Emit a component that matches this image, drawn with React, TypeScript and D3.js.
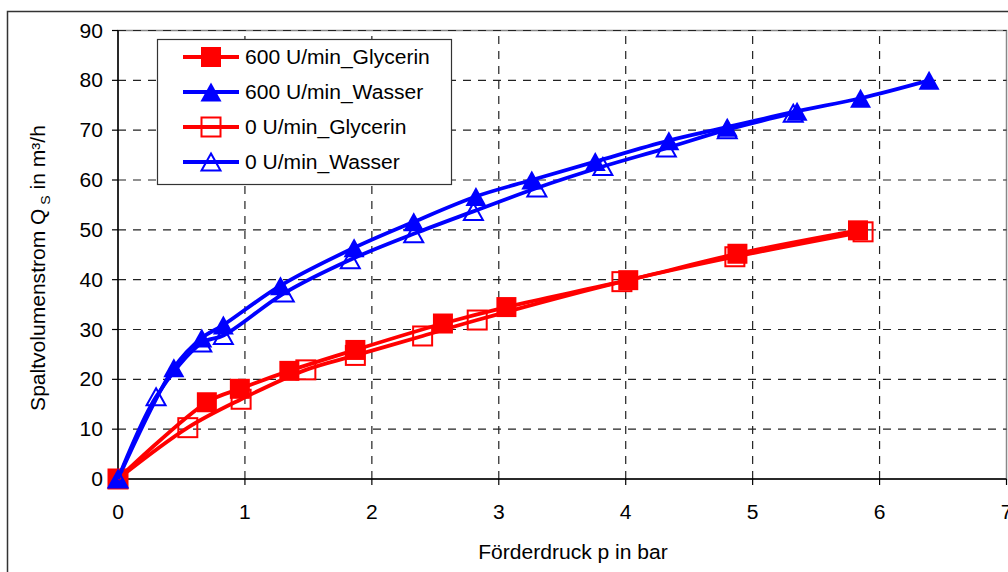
import React from "react";
import * as d3 from "d3";

const glyc600X = [0, 0.70, 0.96, 1.35, 1.87, 2.56, 3.06, 4.02, 4.88, 5.83];
const glyc600Y = [0, 15.4, 18.1, 21.7, 25.9, 31.2, 34.5, 39.9, 45.2, 49.9];

const wasser600X = [0, 0.44, 0.66, 0.83, 1.28, 1.86, 2.33, 2.82, 3.26, 3.76, 4.34, 4.80, 5.35, 5.85, 6.39];
const wasser600Y = [0, 22.3, 28.3, 30.9, 38.8, 46.4, 51.6, 56.7, 60.0, 63.7, 67.9, 70.6, 73.8, 76.4, 80.0];

const glyc0X = [0, 0.55, 0.97, 1.48, 1.87, 2.40, 2.83, 3.97, 4.86, 5.87];
const glyc0Y = [0, 10.3, 16.0, 21.9, 24.8, 28.7, 31.9, 39.6, 44.6, 49.6];

const wasser0X = [0, 0.30, 0.66, 0.83, 1.31, 1.83, 2.33, 2.80, 3.30, 3.82, 4.32, 4.80, 5.32];
const wasser0Y = [0, 16.5, 27.3, 28.8, 37.3, 44.0, 49.2, 53.7, 58.4, 62.7, 66.4, 70.1, 73.4];

const seriesNames = ["600 U/min_Glycerin", "600 U/min_Wasser", "0 U/min_Glycerin", "0 U/min_Wasser"];
const xTicks = [0, 1, 2, 3, 4, 5, 6, 7];
const yTicks = [0, 10, 20, 30, 40, 50, 60, 70, 80, 90];

const RED = "#ff0000";
const BLUE = "#0000ff";
const FONT = "'Liberation Sans', Arial, sans-serif";
const FS = 19.5;
const SX = 1.08;

type Kind = "sqFill" | "triFill" | "sqOpen" | "triOpen";

function Marker({ x, y, kind, color }: { x: number; y: number; kind: Kind; color: string }) {
  if (kind === "sqFill") return <rect x={x - 10} y={y - 10} width={20} height={20} fill={color} />;
  if (kind === "sqOpen")
    return <rect x={x - 9.5} y={y - 9.5} width={19} height={19} fill="none" stroke={color} strokeWidth={2} />;
  const h = 19, w = 21;
  const d = `M${x},${y - h / 2}L${x + w / 2},${y + h / 2}L${x - w / 2},${y + h / 2}Z`;
  if (kind === "triFill") return <path d={d} fill={color} />;
  const h2 = 17, w2 = 19;
  const d2 = `M${x},${y - h2 / 2}L${x + w2 / 2},${y + h2 / 2}L${x - w2 / 2},${y + h2 / 2}Z`;
  return <path d={d2} fill="none" stroke={color} strokeWidth={2} />;
}

function T({ x, y, anchor, children }: { x: number; y: number; anchor?: string; children: any }) {
  return (
    <text transform={`translate(${x},${y}) scale(${SX},1)`} textAnchor={anchor || "start"} fontSize={FS} fill="#000">
      {children}
    </text>
  );
}

export default function App() {
  const x = d3.scaleLinear().domain([0, 7]).range([118, 1006.5]);
  const y = d3.scaleLinear().domain([0, 90]).range([479, 30.5]);
  const line = d3
    .line<[number, number]>()
    .x((d) => x(d[0]))
    .y((d) => y(d[1]))
    .curve(d3.curveCatmullRom.alpha(0.5));

  const series = [
    { xs: glyc600X, ys: glyc600Y, color: RED, kind: "sqFill" as Kind },
    { xs: wasser600X, ys: wasser600Y, color: BLUE, kind: "triFill" as Kind },
    { xs: glyc0X, ys: glyc0Y, color: RED, kind: "sqOpen" as Kind },
    { xs: wasser0X, ys: wasser0Y, color: BLUE, kind: "triOpen" as Kind },
  ];

  const legendY = [57, 92, 127, 162];

  return (
    <div style={{ position: "fixed", left: 0, top: 0 }}>
      <svg width={1008} height={572} style={{ display: "block", fontFamily: FONT }}>
        <rect x={0} y={0} width={1008} height={572} fill="#fff" />
        <rect x={7.5} y={11.5} width={1100} height={700} fill="#fff" stroke="#333" strokeWidth={1.5} />
        {/* plot area border */}
        <rect x={x(0)} y={y(90)} width={x(7) - x(0)} height={y(0) - y(90)} fill="#fff" stroke="#888" strokeWidth={1.5} />
        {/* grid */}
        {yTicks.filter((t) => t > 0).map((t) => (
          <line key={"gy" + t} x1={x(0)} x2={x(7)} y1={y(t)} y2={y(t)} stroke="#222" strokeWidth={1.2} strokeDasharray="8,7" />
        ))}
        {xTicks.filter((t) => t > 0 && t < 7).map((t) => (
          <line key={"gx" + t} x1={x(t)} x2={x(t)} y1={y(0)} y2={y(90)} stroke="#222" strokeWidth={1.2} strokeDasharray="8,7" />
        ))}
        {/* axes */}
        <line x1={x(0)} x2={x(0)} y1={y(0)} y2={y(90)} stroke="#000" strokeWidth={1.5} />
        <line x1={x(0)} x2={x(7)} y1={y(0)} y2={y(0)} stroke="#000" strokeWidth={1.5} />
        {yTicks.map((t) => (
          <g key={"yt" + t}>
            <line x1={x(0) - 6} x2={x(0)} y1={y(t)} y2={y(t)} stroke="#000" strokeWidth={1.2} />
            <T x={103} y={y(t) + 7} anchor="end">{t}</T>
          </g>
        ))}
        {xTicks.map((t) => (
          <g key={"xt" + t}>
            <line x1={x(t)} x2={x(t)} y1={y(0)} y2={y(0) + 6} stroke="#000" strokeWidth={1.2} />
            <T x={x(t)} y={518.5} anchor="middle">{t}</T>
          </g>
        ))}
        <T x={573} y={559} anchor="middle">Förderdruck p in bar</T>
        <text transform={`translate(44.5,268) rotate(-90) scale(${SX},1)`} textAnchor="middle" fontSize={FS} fill="#000">
          Spaltvolumenstrom Q
          <tspan fontSize={13} dy={5}> S</tspan>
          <tspan dy={-5}> in m³/h</tspan>
        </text>
        {/* series */}
        {series.map((s, i) => {
          const pts = s.xs.map((v, j) => [v, s.ys[j]] as [number, number]);
          return (
            <g key={"s" + i}>
              <path d={line(pts) || ""} fill="none" stroke={s.color} strokeWidth={3.8} />
              {pts.map((p, j) => (
                <Marker key={j} x={x(p[0])} y={y(p[1])} kind={s.kind} color={s.color} />
              ))}
            </g>
          );
        })}
        {/* legend */}
        <rect x={157.5} y={39.5} width={294} height={145} fill="#fff" stroke="#333" strokeWidth={1.2} />
        {series.map((s, i) => (
          <g key={"lg" + i}>
            <line x1={183} x2={239} y1={legendY[i]} y2={legendY[i]} stroke={s.color} strokeWidth={3.8} />
            <Marker x={211} y={legendY[i]} kind={s.kind} color={s.color} />
            <T x={245} y={legendY[i] + 7}>{seriesNames[i]}</T>
          </g>
        ))}
      </svg>
    </div>
  );
}
